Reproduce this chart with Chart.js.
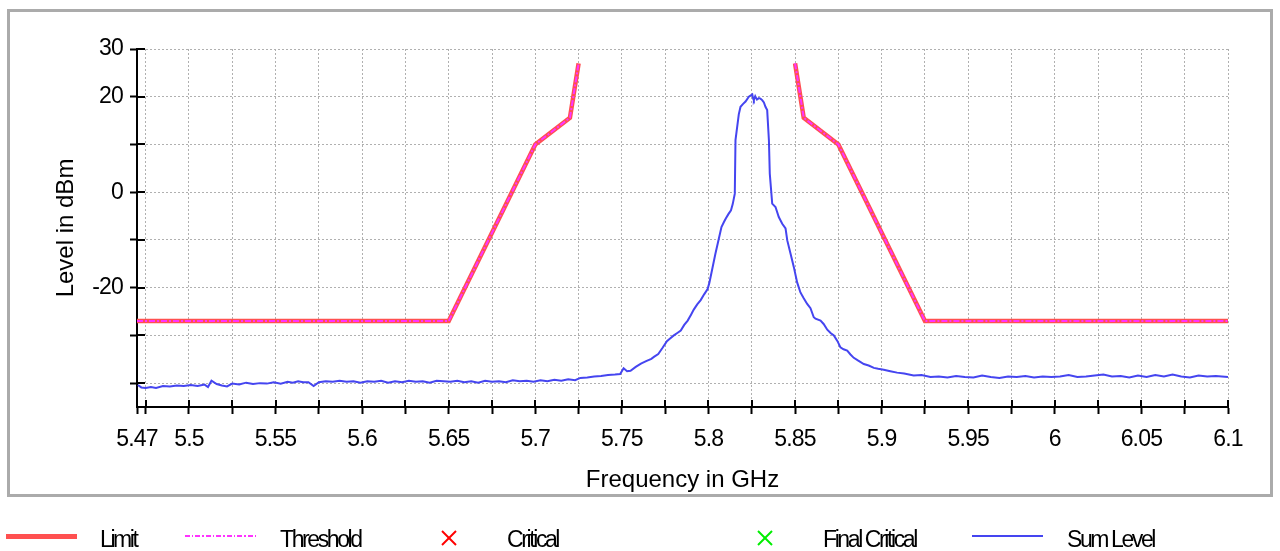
<!DOCTYPE html>
<html lang="en">
<head>
<meta charset="UTF-8">
<title>Sum Level vs Limit</title>
<script src="https://cdn.jsdelivr.net/npm/chart.js"></script>
<style>
  body { margin: 0; background: #fff; font-family: 'Liberation Sans', Arial, sans-serif; }
  #wrap { position: relative; width: 1280px; height: 551px; overflow: hidden; }
  #frame { position: absolute; left: 7px; top: 9px; width: 1266px; height: 488px; box-sizing: border-box; border: 3px solid #ababab; }
  canvas { position: absolute; left: 0; top: 0; }
  .lg-sample { position: absolute; }
  .lg-text { position: absolute; top: 526px; font-size: 23px; line-height: 26px; letter-spacing: -2.4px; color: #000; white-space: nowrap; }
</style>
</head>
<body>
<div id="wrap">
  <div id="frame"></div>
  <canvas id="chart" width="1280" height="551"></canvas>
  <div id="legend"></div>
</div>
<script>
// axis ticks
const xTicks = [5.47, 5.475, 5.5, 5.525, 5.55, 5.575, 5.6, 5.625, 5.65, 5.675, 5.7, 5.725, 5.75, 5.775,
                5.8, 5.825, 5.85, 5.875, 5.9, 5.925, 5.95, 5.975, 6, 6.025, 6.05, 6.075, 6.1];
const xTickLabels = ['5.47', '', '5.5', '', '5.55', '', '5.6', '', '5.65', '', '5.7', '', '5.75', '',
                     '5.8', '', '5.85', '', '5.9', '', '5.95', '', '6', '', '6.05', '', '6.1'];
const yTicks = [-40, -30, -20, -10, 0, 10, 20, 30];
const yTickLabels = ['', '', '-20', '', '0', '', '20', '30'];

// limit mask (threshold follows the same mask)
const limitFreq  = [5.47, 5.65, 5.7, 5.72, 5.725, 5.7875, 5.85, 5.855, 5.875, 5.925, 6.1];
const limitLevel = [-27, -27, 10, 15.6, 27, null, 27, 15.6, 10, -27, -27];

// measured sum level
const sumFreq = [
  5.4705, 5.4725, 5.475, 5.478, 5.481, 5.485, 5.489, 5.493, 5.497, 5.501, 5.505, 5.509, 5.511, 5.513,
  5.516, 5.519, 5.522, 5.525, 5.529, 5.533, 5.537, 5.541, 5.545, 5.549, 5.553, 5.557, 5.560, 5.563,
  5.566, 5.569, 5.572, 5.575, 5.579, 5.583, 5.587, 5.591, 5.595, 5.599, 5.603, 5.607, 5.611, 5.615,
  5.619, 5.623, 5.627, 5.631, 5.635, 5.639, 5.643, 5.647, 5.651, 5.655, 5.659, 5.663, 5.667, 5.671,
  5.675, 5.679, 5.683, 5.687, 5.691, 5.695, 5.699, 5.703, 5.707, 5.711, 5.715, 5.719, 5.723, 5.726,
  5.730, 5.734, 5.738, 5.742, 5.746, 5.749, 5.751, 5.753, 5.755, 5.758, 5.761, 5.764, 5.767, 5.7685,
  5.771, 5.7735, 5.776, 5.778, 5.780, 5.782, 5.784, 5.786, 5.788, 5.790, 5.7915, 5.7935, 5.7955,
  5.7975, 5.7995, 5.8005, 5.802, 5.804, 5.806, 5.8075, 5.809, 5.810, 5.8115, 5.813, 5.814, 5.8152,
  5.8156, 5.8175, 5.8185, 5.820, 5.8214, 5.8233, 5.8245, 5.8253, 5.8258, 5.8262, 5.827, 5.828, 5.8291,
  5.830, 5.831, 5.832, 5.8329, 5.8339, 5.8349, 5.8354, 5.8368, 5.8387, 5.8406, 5.8426, 5.8445, 5.8455,
  5.8474, 5.8493, 5.8512, 5.8531, 5.855, 5.857, 5.8589, 5.8608, 5.8618, 5.8647, 5.8665, 5.8686, 5.8705,
  5.8724, 5.8745, 5.8762, 5.878, 5.8801, 5.882, 5.8839, 5.8865, 5.8897, 5.8925, 5.8955, 5.898, 5.9012,
  5.905, 5.9089, 5.913, 5.9185, 5.923, 5.9282, 5.933, 5.938, 5.943, 5.948, 5.953, 5.958, 5.963, 5.968,
  5.973, 5.978, 5.983, 5.988, 5.993, 5.998, 6.003, 6.008, 6.013, 6.018, 6.023, 6.028, 6.033, 6.038,
  6.043, 6.048, 6.053, 6.058, 6.063, 6.068, 6.073, 6.078, 6.083, 6.088, 6.093, 6.1
];
const sumLevel = [
  -40.4, -40.9, -41.0, -40.8, -41.0, -40.6, -40.7, -40.5, -40.6, -40.4, -40.6, -40.3, -40.8, -39.5,
  -40.2, -40.5, -40.7, -40.1, -40.3, -39.9, -40.2, -40.0, -40.1, -39.8, -40.1, -39.7, -39.9, -39.6,
  -39.8, -39.8, -40.6, -39.8, -39.6, -39.7, -39.5, -39.7, -39.6, -39.9, -39.6, -39.7, -39.5, -39.9,
  -39.6, -39.8, -39.5, -39.7, -39.6, -39.9, -39.5, -39.6, -39.7, -39.5, -39.8, -39.6, -39.9, -39.5,
  -39.7, -39.6, -39.8, -39.4, -39.6, -39.5, -39.7, -39.4, -39.6, -39.3, -39.5, -39.2, -39.4, -38.9,
  -38.8, -38.6, -38.5, -38.3, -38.2, -38.1, -36.9, -37.5, -37.4, -36.6, -35.9, -35.4, -34.9, -34.5,
  -33.9, -32.6, -31.2, -30.6, -30.0, -29.5, -29.0, -27.8, -26.9, -25.6, -24.6, -23.5, -22.6,
  -21.4, -20.3, -19.0, -16.4, -12.9, -9.7, -7.3, -6.2, -5.5, -4.6, -3.8, -2.5, -0.3,
  10.9, 16.3, 17.9, 18.5, 19.0, 20.0, 20.3, 20.5, 19.6, 19.3, 20.1, 19.4, 19.7,
  19.6, 19.3, 18.8, 17.9, 17.2, 10.9, 3.9, -2.4, -3.1, -5.2, -6.6, -7.6, -10.1,
  -12.9, -15.7, -18.9, -21.0, -22.2, -23.4, -24.3, -26.2, -26.5, -26.9, -27.6, -28.8, -29.5,
  -30.0, -31.2, -32.5, -32.9, -33.2, -34.0, -34.7, -35.3, -36.0, -36.3, -36.8, -37.0, -37.2,
  -37.5, -37.8, -38.0, -38.4, -38.3, -38.7, -38.6, -38.8, -38.5, -38.7, -38.8, -38.4, -38.7, -38.9,
  -38.6, -38.7, -38.5, -38.8, -38.6, -38.7, -38.6, -38.3, -38.7, -38.6, -38.4, -38.2, -38.6, -38.5,
  -38.8, -38.4, -38.7, -38.3, -38.6, -38.2, -38.6, -38.8, -38.4, -38.6, -38.5, -38.7
];

const FONT = "'Liberation Sans', Arial, sans-serif";

function points(xs, ys) {
  return xs.map((x, i) => ({ x: x, y: ys[i] }));
}

// tick marks that cross the axis line, plus condensed tick labels
const axisTicks = {
  id: 'axisTicks',
  beforeDraw(chart) {
    Object.values(chart.scales).forEach(scale => {
      if (scale._condensed) return;
      const draw = scale.drawLabels.bind(scale);
      scale.drawLabels = area => {
        chart.ctx.save();
        chart.ctx.letterSpacing = '-0.8px';
        draw(area);
        chart.ctx.restore();
      };
      scale._condensed = true;
    });
  },
  afterDatasetsDraw(chart) {
    const { ctx, chartArea, scales: { x, y } } = chart;
    ctx.save();
    ctx.strokeStyle = '#000';
    ctx.lineWidth = 2;
    ctx.beginPath();
    xTicks.forEach(v => {
      const px = Math.round(x.getPixelForValue(v));
      ctx.moveTo(px, chartArea.bottom);
      ctx.lineTo(px, chartArea.bottom - 7);
    });
    yTicks.forEach(v => {
      const py = Math.round(y.getPixelForValue(v));
      ctx.moveTo(chartArea.left, py);
      ctx.lineTo(chartArea.left + 8, py);
    });
    ctx.stroke();
    ctx.restore();
  }
};

const gridOpts = {
  color: '#b0b0b0',
  lineWidth: 1,
  tickColor: '#000',
  tickWidth: 2,
  tickLength: 7,
  tickBorderDash: []
};
const borderOpts = { color: '#000', width: 2, dash: [2, 2] };

const chart = new Chart(document.getElementById('chart'), {
  type: 'line',
  data: {
    datasets: [
      {
        label: 'Limit',
        data: points(limitFreq, limitLevel),
        borderColor: '#ff5050',
        borderWidth: 4.5,
        pointRadius: 0,
        order: 1
      },
      {
        label: 'Threshold',
        data: points(limitFreq, limitLevel),
        borderColor: '#ff33ff',
        borderWidth: 2,
        borderDash: [6, 2, 2, 2],
        pointRadius: 0,
        order: 0
      },
      {
        label: 'Critical',
        data: [],
        showLine: false,
        pointStyle: 'crossRot',
        borderColor: '#ff0000',
        order: 3
      },
      {
        label: 'Final Critical',
        data: [],
        showLine: false,
        pointStyle: 'crossRot',
        borderColor: '#00ee00',
        order: 4
      },
      {
        label: 'Sum Level',
        data: points(sumFreq, sumLevel),
        borderColor: '#4545f0',
        borderWidth: 2,
        pointRadius: 0,
        order: 2
      }
    ]
  },
  options: {
    responsive: false,
    animation: false,
    devicePixelRatio: 1,
    layout: { padding: { left: 37, right: 52, top: 49, bottom: 44 } },
    plugins: { legend: { display: false }, tooltip: { enabled: false } },
    scales: {
      x: {
        type: 'linear',
        min: 5.47,
        max: 6.1,
        afterBuildTicks: s => { s.ticks = xTicks.map(v => ({ value: v })); },
        afterFit: s => { s.height = 100; },
        grid: gridOpts,
        border: borderOpts,
        ticks: {
          autoSkip: false,
          maxRotation: 0,
          minRotation: 0,
          padding: 12,
          color: '#000',
          font: { family: FONT, size: 23 },
          callback: (v, i) => xTickLabels[i]
        },
        title: {
          display: true,
          text: 'Frequency in GHz',
          color: '#000',
          font: { family: FONT, size: 24 },
          padding: { top: 0, bottom: 12 }
        }
      },
      y: {
        min: -45,
        max: 30,
        afterBuildTicks: s => { s.ticks = yTicks.map(v => ({ value: v })); },
        afterFit: s => { s.width = 100; },
        grid: gridOpts,
        border: borderOpts,
        ticks: {
          autoSkip: false,
          padding: 7,
          color: '#000',
          font: { family: FONT, size: 23 },
          callback: (v, i) => yTickLabels[i]
        },
        title: {
          display: true,
          text: 'Level in dBm',
          color: '#000',
          font: { family: FONT, size: 24 },
          padding: { top: 15, bottom: 0 }
        }
      }
    }
  },
  plugins: [axisTicks]
});

// legend row under the frame
const legendSpots = [
  { sample: 6, text: 100 },
  { sample: 185, text: 280 },
  { sample: 441, text: 507 },
  { sample: 757, text: 823 },
  { sample: 972, text: 1067 }
];
const legend = document.getElementById('legend');
chart.data.datasets.forEach((ds, i) => {
  const spot = legendSpots[i];
  let sample;
  if (ds.showLine === false) {
    sample = document.createElementNS('http://www.w3.org/2000/svg', 'svg');
    sample.setAttribute('width', '16');
    sample.setAttribute('height', '16');
    sample.innerHTML = '<line x1="1" y1="1" x2="15" y2="15" stroke="' + ds.borderColor + '" stroke-width="2"/>' +
                       '<line x1="15" y1="1" x2="1" y2="15" stroke="' + ds.borderColor + '" stroke-width="2"/>';
    sample.style.top = '530px';
  } else {
    sample = document.createElement('div');
    const h = Math.max(2, Math.round(ds.borderWidth));
    sample.style.width = '71px';
    sample.style.height = h + 'px';
    sample.style.top = (536 - h / 2) + 'px';
    if (ds.borderDash) {
      sample.style.background = 'repeating-linear-gradient(to right, ' + ds.borderColor + ' 0 5px, transparent 5px 7px, ' +
        ds.borderColor + ' 7px 8.5px, transparent 8.5px 10.5px)';
    } else {
      sample.style.background = ds.borderColor;
    }
  }
  sample.classList.add('lg-sample');
  sample.style.position = 'absolute';
  sample.style.left = spot.sample + 'px';
  legend.appendChild(sample);

  const txt = document.createElement('div');
  txt.className = 'lg-text';
  txt.style.left = spot.text + 'px';
  txt.textContent = ds.label;
  legend.appendChild(txt);
});
</script>
</body>
</html>
